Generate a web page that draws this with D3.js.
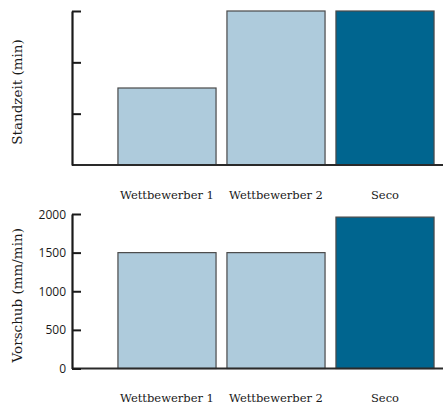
<!DOCTYPE html>
<html>
<head>
<meta charset="utf-8">
<script src="https://cdn.jsdelivr.net/npm/d3@7"></script>
<style>
  body { margin: 0; background: #fff; }
  svg { display: block; }
  .serif { font-family: "DejaVu Serif", "Liberation Serif", serif; }
  .sans { font-family: "Open Sans", "Liberation Sans", Arial, sans-serif; }
</style>
</head>
<body>
<svg width="443" height="410"></svg>
<script>
// data
var categories = ["Wettbewerber 1", "Wettbewerber 2", "Seco"]
var standzeit = [1.5, 3, 3]          // relative units, no tick labels in original
var standzeitTicks = [1, 2, 3]
var vorschub = [1500, 1500, 1960]
var vorschubTicks = [0, 500, 1000, 1500, 2000]
var colors = ["#aecbdc", "#aecbdc", "#00658f"]

var svg = d3.select("svg")
var axisX = 72

var xScale = d3.scaleBand().domain(categories).range([112.5, 439.5])
  .paddingInner(0.1).paddingOuter(0.05)

function panel(values, ticks, yMax, top, bottom, showLabels, title, labelY) {
  var yScale = d3.scaleLinear().domain([0, yMax]).range([bottom, top])
  var g = svg.append("g")

  g.selectAll("rect")
    .data(values)
    .enter()
    .append("rect")
    .attr("x", (d, i) => xScale(categories[i]))
    .attr("y", d => yScale(d))
    .attr("width", xScale.bandwidth())
    .attr("height", d => yScale(0) - yScale(d))
    .style("fill", (d, i) => colors[i])
    .style("stroke", "#4a4a4a")
    .style("stroke-width", 1.2)

  // baseline running to right edge
  g.append("line")
    .attr("x1", axisX).attr("x2", 443)
    .attr("y1", yScale(0)).attr("y2", yScale(0))
    .style("stroke", "#2a2a2a").style("stroke-width", 2)

  var axis = d3.axisRight(yScale).tickValues(ticks).tickSize(9).tickSizeOuter(0).tickFormat("")
  var ax = g.append("g").attr("transform", "translate(" + axisX + ",0)").call(axis)
  ax.select(".domain").style("stroke", "#1a1a1a").style("stroke-width", 2.2)
  ax.selectAll(".tick line").style("stroke", "#1a1a1a").style("stroke-width", 2)

  if (showLabels) {
    g.selectAll("text.tl")
      .data(ticks)
      .enter()
      .append("text")
      .attr("class", "tl sans")
      .attr("x", axisX - 6)
      .attr("y", d => yScale(d) + 4.5)
      .attr("text-anchor", "end")
      .style("font-size", "12px")
      .style("fill", "#1a1a1a")
      .text(d => d)
  }

  g.append("text")
    .attr("class", "serif")
    .attr("transform", "translate(22," + ((top + bottom) / 2 + 4) + ") rotate(-90)")
    .attr("text-anchor", "middle")
    .style("font-size", "13.5px")
    .style("fill", "#1a1a1a")
    .text(title)

  g.selectAll("text.cat")
    .data(categories)
    .enter()
    .append("text")
    .attr("class", "cat serif")
    .attr("x", d => xScale(d) + xScale.bandwidth() / 2)
    .attr("y", labelY)
    .attr("text-anchor", "middle")
    .style("font-size", "11.5px")
    .style("fill", "#1a1a1a")
    .text(d => d)
}

panel(standzeit, standzeitTicks, 3, 11, 165, false, "Standzeit (min)", 199)
panel(vorschub, vorschubTicks, 2000, 214, 368.5, true, "Vorschub (mm/min)", 402)
</script>
</body>
</html>
